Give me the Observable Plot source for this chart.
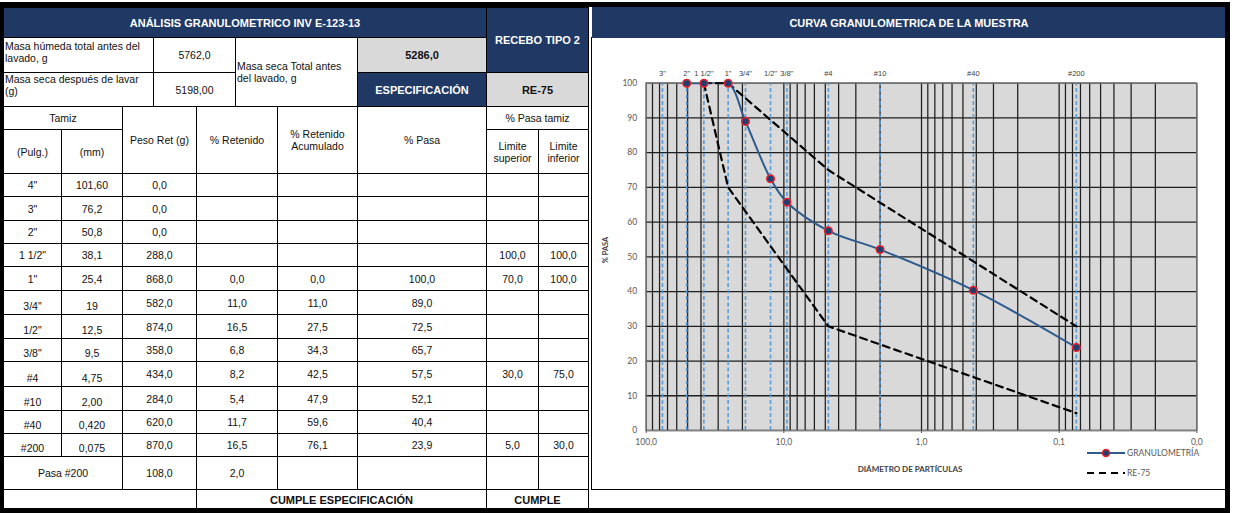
<!DOCTYPE html>
<html><head><meta charset="utf-8">
<script src="https://cdn.jsdelivr.net/npm/d3@7"></script>
<script src="https://cdn.jsdelivr.net/npm/@observablehq/plot@0.6"></script>
<style>
body{margin:0;background:#fff;width:1234px;height:513px;overflow:hidden;position:relative;font-family:"Liberation Sans",Arial,sans-serif;}
.c{position:absolute;box-sizing:border-box;border:1px solid #000;display:flex;align-items:center;justify-content:center;text-align:center;font-size:10.5px;color:#111;line-height:12px;background:#fff;}
.navy{background:#1f3864;color:#fff;font-weight:bold;font-size:11px;}
.gray{background:#d9d9d9;font-weight:bold;font-size:11px;}
.bold{font-weight:bold;font-size:11px;}
.lt{justify-content:flex-start;align-items:flex-start;text-align:left;padding:2px 0 0 1px;white-space:nowrap;}
.lt2{justify-content:flex-start;align-items:flex-start;text-align:left;padding:0 0 0 1px;white-space:nowrap;}
.lm{justify-content:flex-start;text-align:left;padding-left:1px;white-space:nowrap;}
.bt{align-items:flex-end;padding-bottom:2px;}
#frame{position:absolute;left:0;top:2px;width:1230px;height:511px;box-sizing:border-box;border-top:5px solid #000;border-left:3px solid #000;border-right:5px solid #000;border-bottom:5px solid #000;pointer-events:none;z-index:10;}
#panel{position:absolute;left:591px;top:37px;width:636px;height:453px;box-sizing:border-box;border:1px solid #000;}
#chartHead{position:absolute;left:592px;top:7px;width:634px;height:31px;background:#1f3864;color:#fff;font-weight:bold;font-size:11px;display:flex;align-items:center;justify-content:center;}
#chart{position:absolute;left:592px;top:38px;}
.lab{position:absolute;font-family:Lato,"Liberation Sans",sans-serif;font-weight:bold;color:#404040;white-space:nowrap;}
.leg{position:absolute;font-family:Lato,"Liberation Sans",sans-serif;font-size:8.5px;color:#595959;display:flex;align-items:center;white-space:nowrap;}
</style>
</head><body>
<div id="tbl"></div>
<div id="panel"></div>
<div id="chartHead">CURVA GRANULOMETRICA DE LA MUESTRA</div>
<div id="chart"></div>
<div class="lab" style="left:605px;top:250px;font-size:7.5px;transform:translate(-50%,-50%) rotate(-90deg);">% PASA</div>
<div class="lab" style="left:910px;top:469px;font-size:8px;transform:translate(-50%,-50%);">DIÁMETRO DE PARTÍCULAS</div>
<div class="leg" style="left:1086px;top:447px;"><svg width="40" height="12"><line x1="1" y1="6" x2="39" y2="6" stroke="#2e5b8e" stroke-width="2"/><circle cx="20" cy="6" r="3.5" fill="#1f3f73" stroke="#e8212b" stroke-width="1.5"/></svg><span style="margin-left:1px">GRANULOMETRÍA</span></div>
<div class="leg" style="left:1086px;top:467px;"><svg width="40" height="12"><line x1="1" y1="6" x2="39" y2="6" stroke="#000" stroke-width="2" stroke-dasharray="7,5"/></svg><span style="margin-left:1px">RE-75</span></div>
<div id="frame"></div>
<script>
// ---------- DATA ----------
const title = "ANÁLISIS GRANULOMETRICO INV E-123-13";
const masaHumeda = 5762.0;
const masaSecaDespues = "5198,00";
const masaSecaTotal = 5286.0;
const material = "RECEBO TIPO 2";
const especificacion = "RE-75";
const sievePulg = ['4"','3"','2"','1 1/2"','1"','3/4"','1/2"','3/8"','#4','#10','#40','#200'];
const sieveMmText = ['101,60','76,2','50,8','38,1','25,4','19','12,5','9,5','4,75','2,00','0,420','0,075'];
const sieveSize = [101.6,76.2,50.8,38.1,25.4,19,12.5,9.5,4.75,2.0,0.42,0.075];
const pesoRet = [0,0,0,288,868,582,874,358,434,284,620,870];
const pctRet = [null,null,null,null,0.0,11.0,16.5,6.8,8.2,5.4,11.7,16.5];
const pctRetAcum = [null,null,null,null,0.0,11.0,27.5,34.3,42.5,47.9,59.6,76.1];
const pctPasa = [null,null,null,null,100.0,89.0,72.5,65.7,57.5,52.1,40.4,23.9];
const limSup = [null,null,null,100,70,null,null,null,30,null,null,5];
const limInf = [null,null,null,100,100,null,null,null,75,null,null,30];
const pasa200Peso = 108.0;
const pasa200Pct = 2.0;
// chart series (curve)
const curveSize = [50.8,38.1,25.4,19,12.5,9.5,4.75,2.0,0.42,0.075];
const curvePasa = [100,100,100,89.0,72.5,65.7,57.5,52.1,40.4,23.9];
// axis ticks
const xTickVals = [100,10,1,0.1,0.01];
const xTickLabels = ["100,0","10,0","1,0","0,1","0,0"];
const yTicks = [0,10,20,30,40,50,60,70,80,90,100];

// ---------- TABLE ----------
const f1 = v => v == null ? "" : v.toFixed(1).replace(".", ",");
const tbl = document.getElementById("tbl");
function cell(x0,x1,y0,y1,html,cls){
  const d=document.createElement("div");
  d.className="c "+(cls||"");
  d.style.left=x0+"px"; d.style.top=y0+"px";
  d.style.width=(x1-x0+1)+"px"; d.style.height=(y1-y0+1)+"px";
  d.innerHTML=html; tbl.appendChild(d);
}
cell(3,486,7,37,title,"navy");
cell(486,588,7,72,material,"navy");
cell(3,153,37,72,"Masa húmeda total antes del<br>lavado, g","lt");
cell(153,235,37,72,f1(masaHumeda));
cell(235,357,37,106,"Masa seca Total antes<br>del lavado, g","lm");
cell(357,486,37,72,f1(masaSecaTotal),"gray");
cell(3,153,72,106,"Masa seca después de lavar<br>(g)","lt2");
cell(153,235,72,106,masaSecaDespues);
cell(357,486,72,106,"ESPECIFICACIÓN","navy");
cell(486,588,72,106,especificacion,"gray");
cell(3,122,106,129,"Tamiz");
cell(122,196,106,173,"Peso Ret (g)");
cell(196,277,106,173,"% Retenido");
cell(277,357,106,173,"% Retenido<br>Acumulado");
cell(357,486,106,173,"% Pasa");
cell(486,588,106,129,"% Pasa tamiz");
cell(3,61,129,173,"(Pulg.)");
cell(61,122,129,173,"(mm)");
cell(486,538,129,173,"Limite<br>superior");
cell(538,588,129,173,"Limite<br>inferior");
const cols=[3,61,122,196,277,357,486,538,588];
const rowY=[173,196,220,243,266,290,314,338,361,386,410,433,456,489,510];
sievePulg.forEach((p,i)=>{
  const y0=rowY[i], y1=rowY[i+1];
  const vals=[p,sieveMmText[i],f1(pesoRet[i]),f1(pctRet[i]),f1(pctRetAcum[i]),f1(pctPasa[i]),f1(limSup[i]),f1(limInf[i])];
  vals.forEach((v,j)=>cell(cols[j],cols[j+1],y0,y1,v,(i>=5&&j<2)?"bt":""));
});
cell(3,122,456,489,"Pasa #200");
cell(122,196,456,489,f1(pasa200Peso));
cell(196,277,456,489,f1(pasa200Pct));
cell(277,357,456,489,""); cell(357,486,456,489,""); cell(486,538,456,489,""); cell(538,588,456,489,"");
cell(3,196,489,510,"");
cell(196,486,489,510,"CUMPLE ESPECIFICACIÓN","bold");
cell(486,588,489,510,"CUMPLE","bold");

// ---------- CHART ----------
const curve = curveSize.map((s,i)=>({size:s, pasa:curvePasa[i]}));
const spec = [];
sieveSize.forEach((s,i)=>{
  if(limSup[i]!=null) spec.push({serie:"sup", size:s, v:limSup[i]});
});
sieveSize.forEach((s,i)=>{
  if(limInf[i]!=null) spec.push({serie:"inf", size:s, v:limInf[i]});
});
const sieves = sieveSize.map((s,i)=>({size:s,label:sievePulg[i]})).filter(d=>d.size<=100 && d.size>=0.01);
const gridVals = d3.scaleLog().domain([0.01,100]).ticks();

const W=633, H=451;
const chart = Plot.plot({
  width:W, height:H,
  marginLeft:53.7, marginRight:28.7, marginTop:44.7, marginBottom:59,
  style:{fontFamily:"Lato, 'Liberation Sans', sans-serif", fontSize:"8.5px", color:"#595959", background:"transparent", overflow:"visible"},
  x:{type:"log", domain:[100,0.01]},
  y:{domain:[0,100]},
  marks:[
    Plot.frame({fill:"#d9d9d9", stroke:null}),
    Plot.gridX(gridVals,{stroke:"#1f1f1f", strokeOpacity:1, strokeWidth:1.25}),
    Plot.gridY(yTicks,{stroke:"#1f1f1f", strokeOpacity:1, strokeWidth:1.3}),
    Plot.ruleX(sieves,{x:"size", y1:0, y2:100, stroke:"#5b9bd5", strokeWidth:1.6, strokeDasharray:"4,2.5"}),
    Plot.frame({stroke:"#7f7f7f"}),
    Plot.text(sieves,{x:"size", y:()=>100, dy:-10, text:"label", fill:"#404040", fontSize:7.5, fontFamily:"'Liberation Sans', sans-serif"}),
    Plot.line(spec,{x:"size", y:"v", z:"serie", stroke:"#000", strokeWidth:2.2, strokeDasharray:"7,5"}),
    Plot.line(curve,{x:"size", y:"pasa", curve:"catmull-rom", stroke:"#2e5b8e", strokeWidth:2, clip:true}),
    Plot.dot(curve,{x:"size", y:"pasa", r:3.8, fill:"#1f3f73", stroke:"#e8212b", strokeWidth:1.5}),
    Plot.axisX(xTickVals,{anchor:"bottom", tickSize:3, tickPadding:5, label:null, stroke:"#595959", tickFormat:d=>xTickLabels[xTickVals.indexOf(d)]}),
    Plot.axisY(yTicks,{anchor:"left", tickSize:0, tickPadding:9, label:null})
  ]
});
document.getElementById("chart").appendChild(chart);
</script>
</body></html>
